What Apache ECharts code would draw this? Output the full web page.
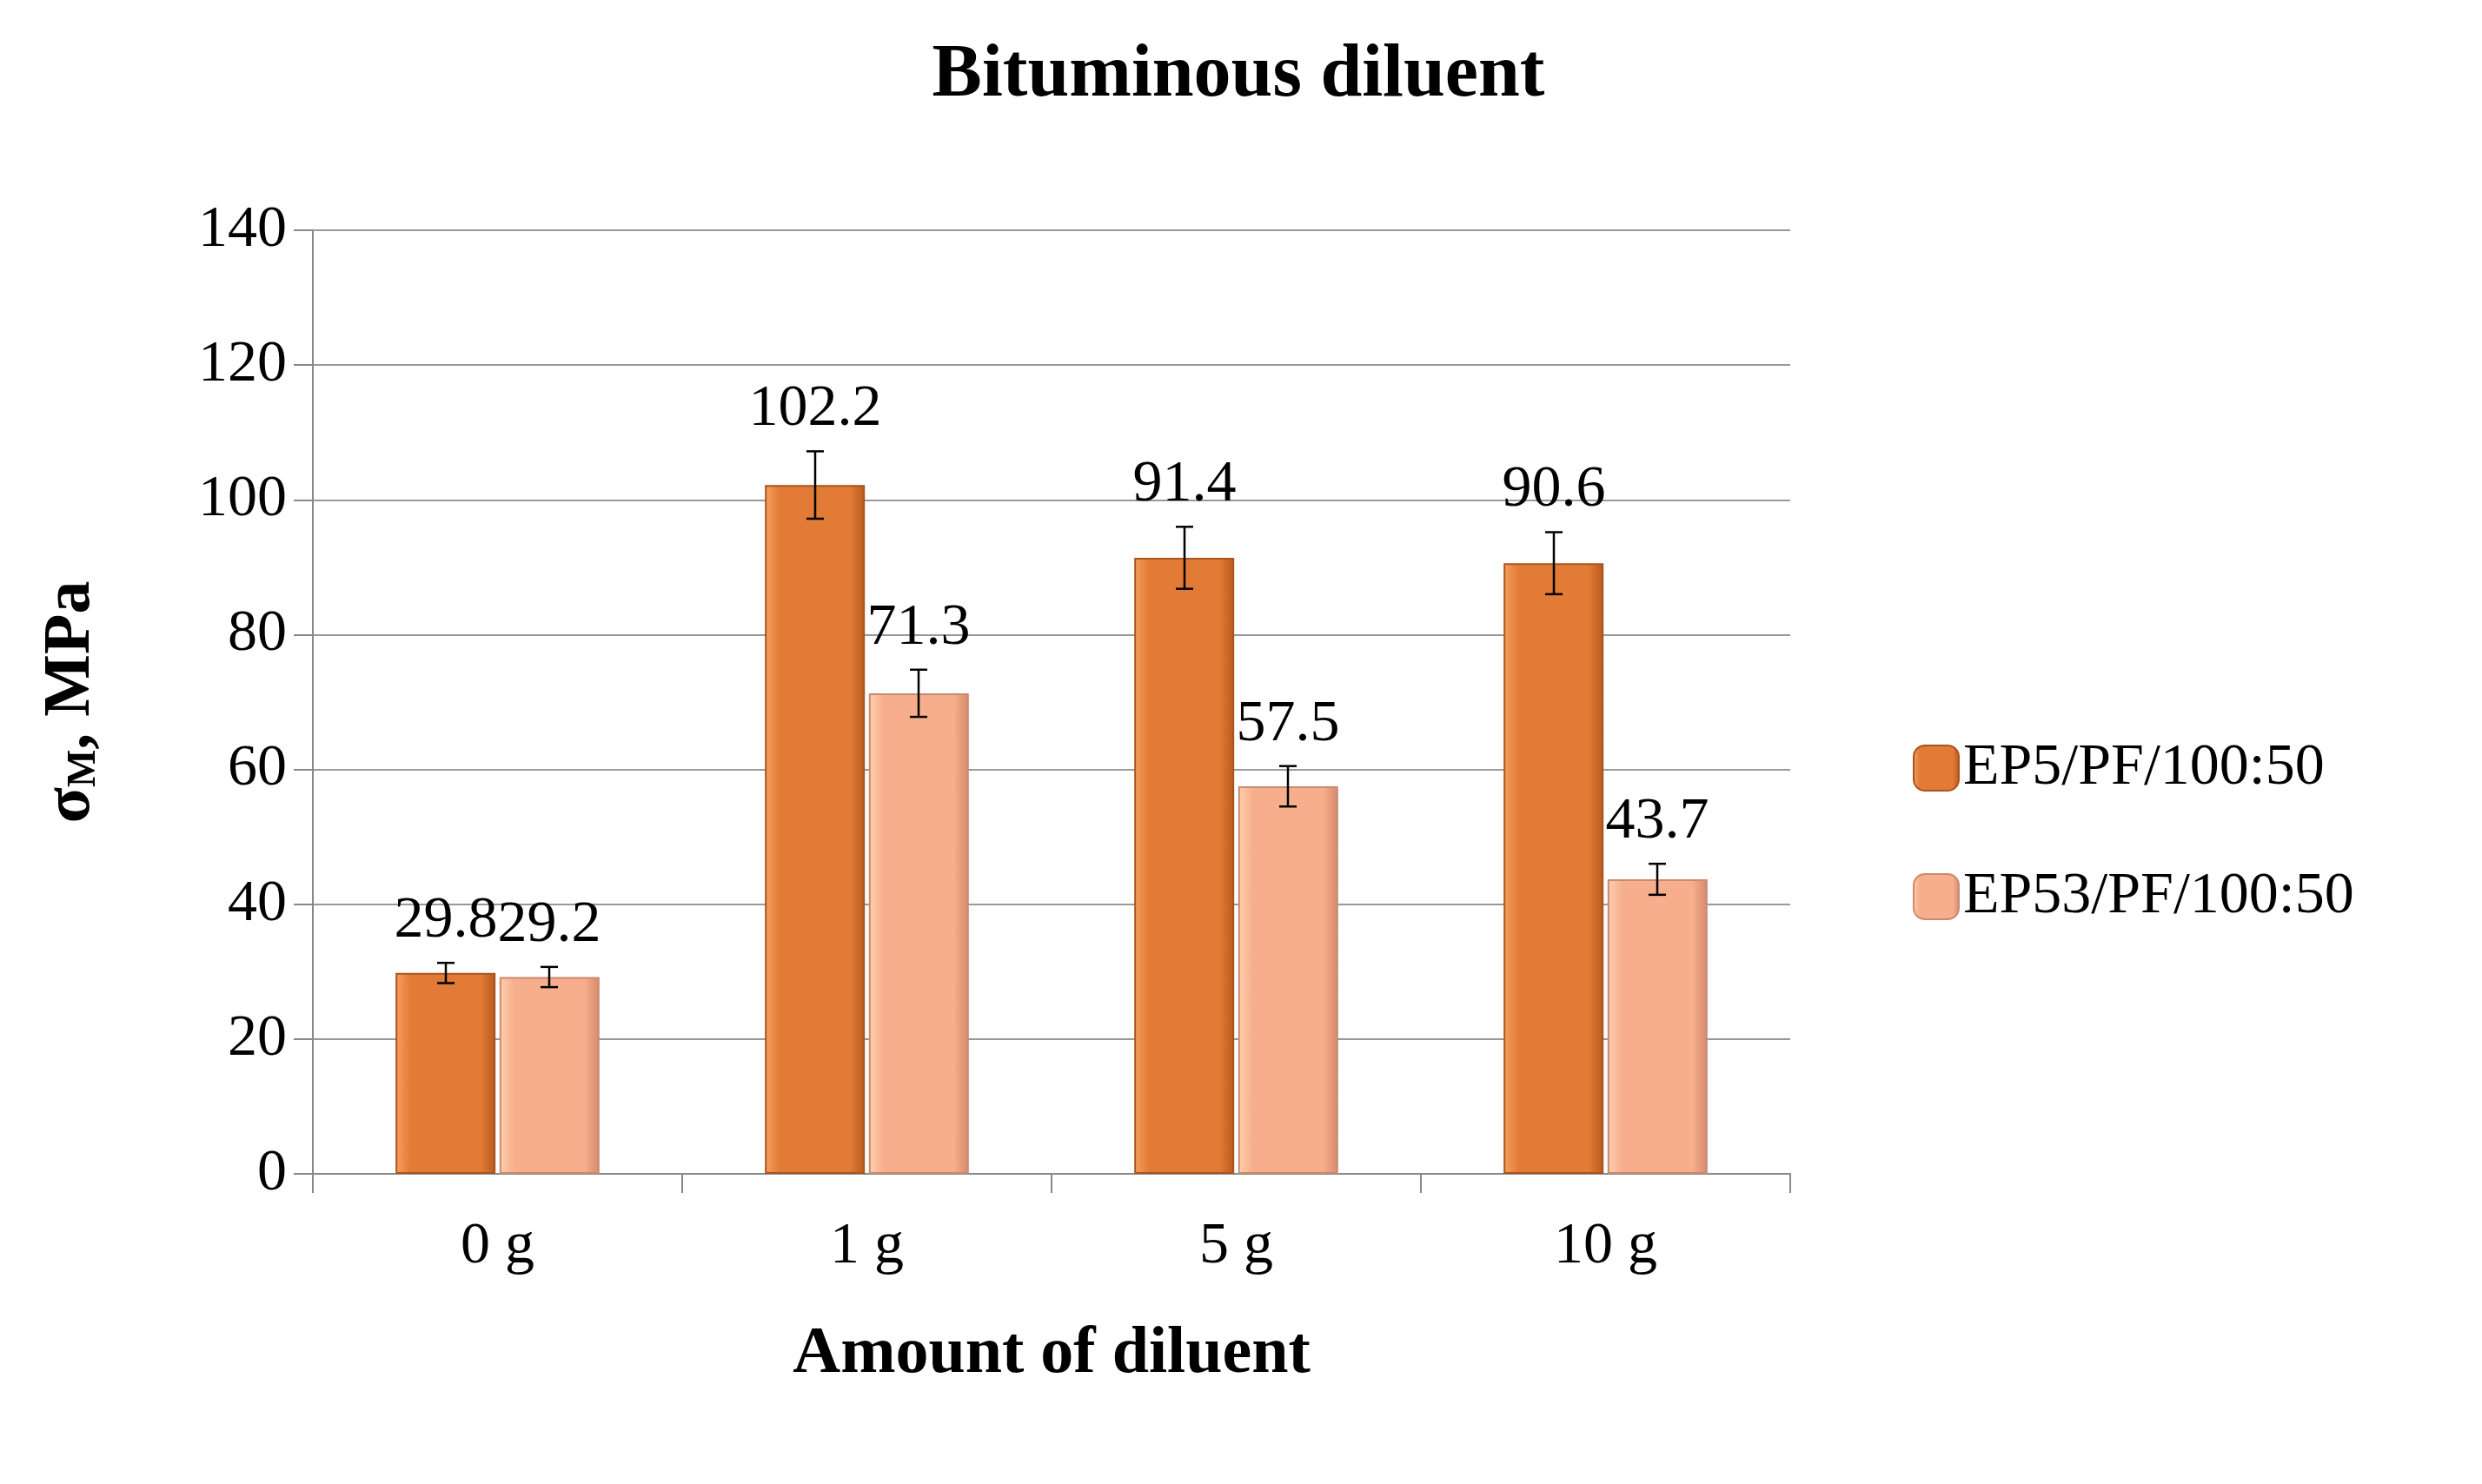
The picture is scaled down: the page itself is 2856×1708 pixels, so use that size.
<!DOCTYPE html>
<html><head><meta charset="utf-8">
<script src="https://cdn.jsdelivr.net/npm/echarts@6/dist/echarts.min.js"></script>
<style>html,body{margin:0;background:#fff}#c{width:2856px;height:1708px}</style>
</head><body><div id="c"></div>
<script>
const categories = ['0 g', '1 g', '5 g', '10 g'];
const seriesNames = ['EP5/PF/100:50', 'EP53/PF/100:50'];
const ep5 = [29.8, 102.2, 91.4, 90.6];
const ep5Err = [1.5, 5.0, 4.6, 4.6];
const ep53 = [29.2, 71.3, 57.5, 43.7];
const ep53Err = [1.5, 3.5, 3.0, 2.3];
const yTicks = [0, 20, 40, 60, 80, 100, 120, 140];

const F = 'Liberation Serif, DejaVu Serif, serif';
const chart = echarts.init(document.getElementById('c'));
function grad(dark, mid, light){
  return new echarts.graphic.LinearGradient(0,0,1,0,[
    {offset:0,color:light},{offset:0.15,color:mid},{offset:0.5,color:mid},{offset:0.85,color:mid},{offset:1,color:dark}]);
}
const barW = 115, gapPx = 4;
function errSeries(vals, errs, idx){
  return {
    type:'custom', z:10, silent:true,
    data: vals.map((v,i)=>[i, v, errs[i]]),
    renderItem(params, api){
      const i = api.value(0), v = api.value(1), e = api.value(2);
      const c = api.coord([i, v]);
      const off = (idx===0 ? -1 : 1) * (barW/2 + gapPx/2);
      const x = c[0] + off;
      const yt = api.coord([i, v+e])[1], yb = api.coord([i, v-e])[1];
      const st = {stroke:'#000', lineWidth:2.5};
      return {type:'group', children:[
        {type:'line', shape:{x1:x,y1:yt,x2:x,y2:yb}, style:st},
        {type:'line', shape:{x1:x-10,y1:yt,x2:x+10,y2:yt}, style:st},
        {type:'line', shape:{x1:x-10,y1:yb,x2:x+10,y2:yb}, style:st},
        {type:'text', style:{text:v.toFixed(1), x:x, y:yt-14, align:'center', verticalAlign:'bottom',
          font:'68px '+F, fill:'#000'}}
      ]};
    }
  };
}
chart.setOption({
  animation:false,
  title:{text:'Bituminous diluent', left:1420, top:40, textAlign:'center',
    textStyle:{fontFamily:F, fontWeight:'bold', fontSize:86, color:'#000'}},
  grid:{left:360, right:796, top:265, bottom:357},
  legend:{orient:'vertical', left:2196, top:845, itemGap:80, itemWidth:52, itemHeight:52,
    textStyle:{fontFamily:F, fontSize:68, color:'#000'}, data:seriesNames},
  xAxis:{type:'category', data:categories,
    name:'Amount of diluent', nameLocation:'middle', nameGap:170,
    nameTextStyle:{fontFamily:F, fontWeight:'bold', fontSize:76, color:'#000'},
    axisLine:{lineStyle:{color:'#888', width:2}},
    axisTick:{show:true, length:22, lineStyle:{color:'#888', width:2}},
    axisLabel:{fontFamily:F, fontSize:68, color:'#000', margin:50}},
  yAxis:{type:'value', min:0, max:140, interval:20,
    name:'{a|σ}{b|M}{a|, MPa}', nameLocation:'middle', nameGap:240, nameRotate:90,
    nameTextStyle:{rich:{a:{fontFamily:F, fontWeight:'bold', fontSize:76, color:'#000'},
      b:{fontFamily:F, fontWeight:'bold', fontSize:46, color:'#000', padding:[30,0,0,0]}}},
    axisLine:{show:true, lineStyle:{color:'#888', width:2}},
    axisTick:{show:true, length:22, lineStyle:{color:'#888', width:2}},
    splitLine:{lineStyle:{color:'#999', width:2}},
    axisLabel:{fontFamily:F, fontSize:68, color:'#000', margin:30,
      formatter:v=>yTicks.includes(v)?String(v):''}},
  series:[
    {name:seriesNames[0], type:'bar', data:ep5, barWidth:barW, barGap:'4%',
      itemStyle:{color:grad('#B85A1E','#E27B35','#F5A060'), borderColor:'#A9541E', borderWidth:2}},
    {name:seriesNames[1], type:'bar', data:ep53, barWidth:barW,
      itemStyle:{color:grad('#D58A6C','#F6AE8C','#FFD0B0'), borderColor:'#C98A70', borderWidth:2}},
    errSeries(ep5, ep5Err, 0),
    errSeries(ep53, ep53Err, 1)
  ]
});
</script></body></html>
